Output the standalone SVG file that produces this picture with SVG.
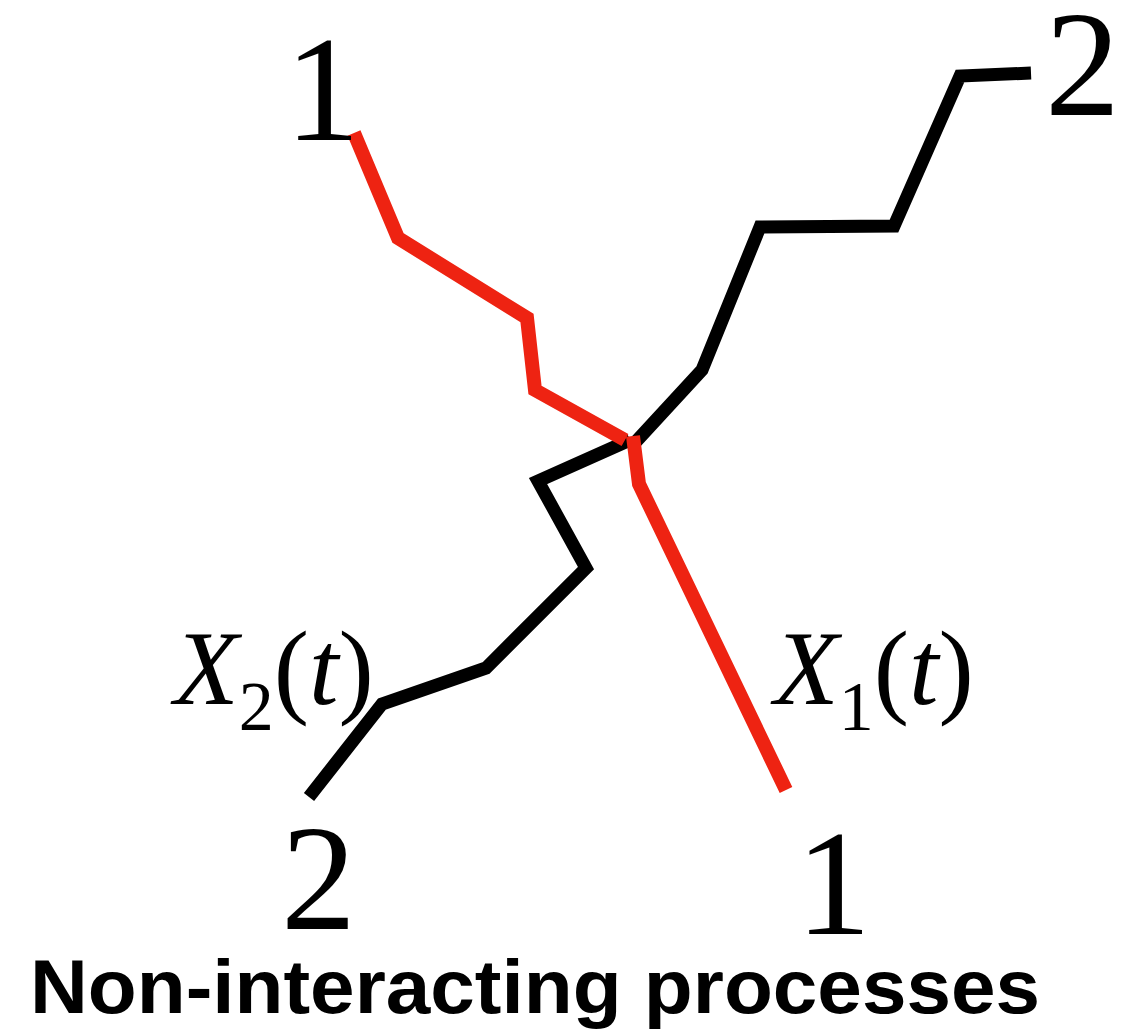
<svg xmlns="http://www.w3.org/2000/svg" width="1128" height="1029" viewBox="0 0 1128 1029">
<style>
.num{font-family:"Liberation Serif","Times New Roman",serif;font-size:150px;fill:#000}
.lab{font-family:"Liberation Serif","Times New Roman",serif;font-size:106px;fill:#000}
.it{font-style:italic}
.path{fill:none;stroke-linejoin:miter;stroke-linecap:butt}
.red{stroke:#ee2312;stroke-width:14}
.blk{stroke:#000;stroke-width:13}
.title{font-family:"Liberation Sans",Arial,sans-serif;font-weight:bold;font-size:76px;fill:#000}
</style>
<rect width="1128" height="1029" fill="#fff"/>
<g id="paths">
<polyline id="process2-upper" class="path blk" points="1031,73 960,76 894,226 760,227 702,370 631,447"/>
<polyline id="process2-lower" class="path blk" points="630,440 538,481 586,568 486,668 382,704 309,797"/>
<polyline id="process1-upper" class="path red" points="354,133 398,238 527,318 535,390 625,440"/>
<polyline id="process1-lower" class="path red" points="633,436 639,484 786,790"/>
</g>
<g id="labels">
<text class="num" x="285" y="140">1</text>
<text class="num" x="1045" y="115">2</text>
<text class="num" x="281" y="929">2</text>
<text class="num" x="796" y="934">1</text>
<text class="lab" x="174" y="704"><tspan class="it">X</tspan><tspan font-size="70" dy="26">2</tspan><tspan dy="-26">(</tspan><tspan class="it">t</tspan><tspan>)</tspan></text>
<text class="lab" x="774" y="704"><tspan class="it">X</tspan><tspan font-size="70" dy="26">1</tspan><tspan dy="-26">(</tspan><tspan class="it">t</tspan><tspan>)</tspan></text>
</g>
<text id="title" class="title" x="30" y="1013" textLength="1010" lengthAdjust="spacingAndGlyphs">Non-interacting processes</text>
</svg>
